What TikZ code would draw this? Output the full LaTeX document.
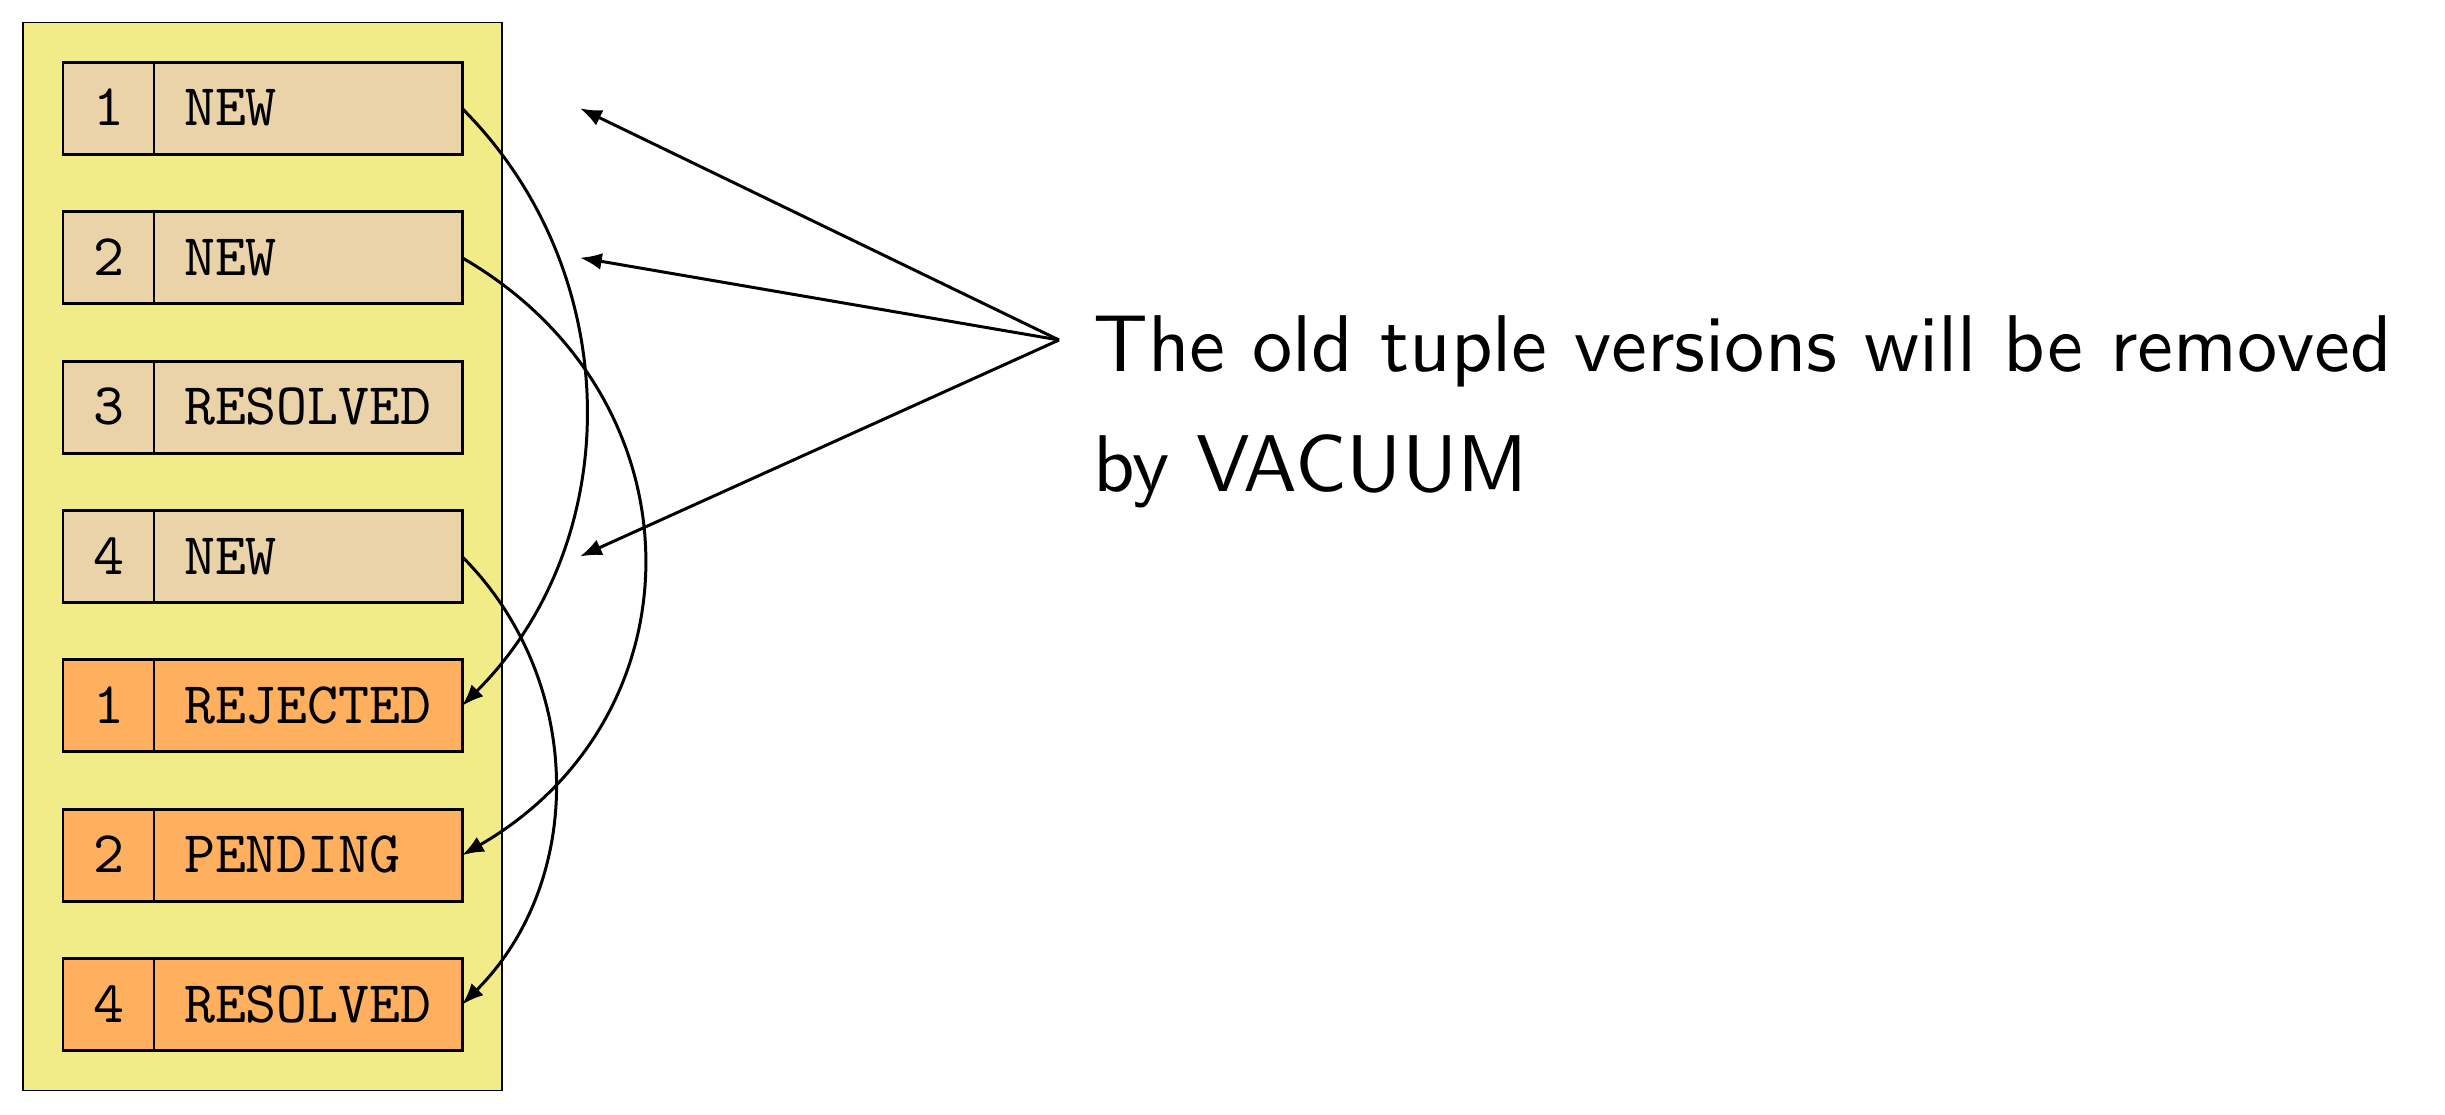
\documentclass[tikz,border=0pt]{standalone}
\usepackage{fontspec}
\usepackage{xcolor}
\usepackage{tikz}
\usetikzlibrary{positioning,arrows.meta,fit,backgrounds}

\newfontfamily\notefont{lmsans10-regular}[Extension=.otf]
\newfontfamily\cellfont{lmmono10-regular}[Extension=.otf]

\definecolor{pagefill}{HTML}{F2EC88}
\definecolor{oldfill}{HTML}{EAD3A8}
\definecolor{newfill}{HTML}{FFB05E}

\begin{document}
\begin{tikzpicture}[
  line width=0.85pt,
  >={Latex[length=6.2pt,width=4.8pt]},
  idbox/.style={draw, outer sep=0pt, inner sep=0pt,
    minimum width=0.91cm, minimum height=0.92cm,
    font=\cellfont\fontsize{16.8}{20}\selectfont,
    text height=10pt, text depth=0pt},
  statebox/.style={draw, outer sep=0pt, inner xsep=0.3cm, inner ysep=0pt,
    minimum height=0.92cm, text width=2.48cm, align=left,
    font=\cellfont\fontsize{16.8}{20}\selectfont,
    text height=10pt, text depth=0pt},
  oldrow/.style={fill=oldfill},
  newrow/.style={fill=newfill},
  note/.style={font=\notefont\fontsize{22.9}{34.1}\selectfont,
    align=left, inner sep=0pt},
]
  \useasboundingbox (0,0) rectangle (24.45,-11.15);

  % --- old tuple versions ---
  \node[idbox, oldrow] (id1) at (1.085,-1.083) {1};
  \node[statebox, oldrow, right=0pt of id1] (st1) {NEW};
  \node[idbox, oldrow, below=0.574cm of id1] (id2) {2};
  \node[statebox, oldrow, right=0pt of id2] (st2) {NEW};
  \node[idbox, oldrow, below=0.574cm of id2] (id3) {3};
  \node[statebox, oldrow, right=0pt of id3] (st3) {RESOLVED};
  \node[idbox, oldrow, below=0.574cm of id3] (id4) {4};
  \node[statebox, oldrow, right=0pt of id4] (st4) {NEW};

  % --- new tuple versions ---
  \node[idbox, newrow, below=0.574cm of id4] (id5) {1};
  \node[statebox, newrow, right=0pt of id5] (st5) {REJECTED};
  \node[idbox, newrow, below=0.574cm of id5] (id6) {2};
  \node[statebox, newrow, right=0pt of id6] (st6) {PENDING};
  \node[idbox, newrow, below=0.574cm of id6] (id7) {4};
  \node[statebox, newrow, right=0pt of id7] (st7) {RESOLVED};

  \begin{scope}[on background layer]
    \node[draw, fill=pagefill, inner sep=0.4cm, fit=(id1)(st7)] (page) {};
  \end{scope}

  % --- updates ---
  \draw[->] (st1.east) to[bend left=45] (st5.east);
  \draw[->] (st2.east) to[out=-30, in=30, looseness=1.2] (st6.east);
  \draw[->] (st4.east) to[bend left=45] (st7.east);

  % --- note ---
  \node[note, anchor=base west] (note) at (10.92,-4.917)
    {The old tuple versions will be removed\\by VACUUM};
  \coordinate (vac) at (10.59,-3.40);
  \coordinate (old1) at ([xshift=1.18cm]st1.east);
  \coordinate (old2) at ([xshift=1.18cm]st2.east);
  \coordinate (old4) at ([xshift=1.18cm]st4.east);
  \draw[->] (vac) -- (old1);
  \draw[->] (vac) -- (old2);
  \draw[->] (vac) -- (old4);
\end{tikzpicture}
\end{document}
